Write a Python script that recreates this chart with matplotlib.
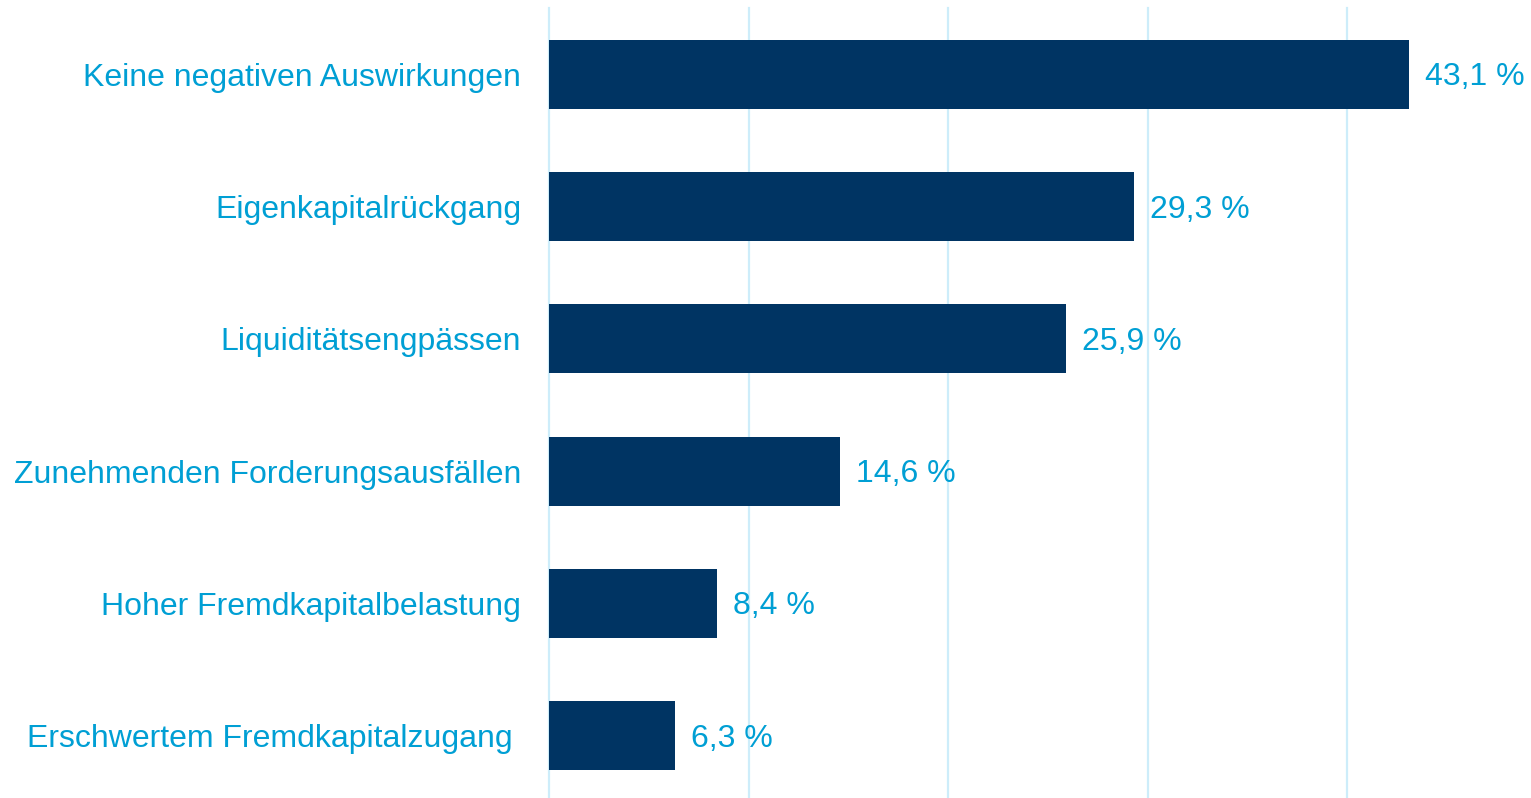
import matplotlib
matplotlib.use("Agg")
import matplotlib.pyplot as plt

categories = [
    "Keine negativen Auswirkungen",
    "Eigenkapitalrückgang",
    "Liquiditätsengpässen",
    "Zunehmenden Forderungsausfällen",
    "Hoher Fremdkapitalbelastung",
    "Erschwertem Fremdkapitalzugang ",
]
values = [43.1, 29.3, 25.9, 14.6, 8.4, 6.3]
value_labels = ["43,1 %", "29,3 %", "25,9 %", "14,6 %", "8,4 %", "6,3 %"]

W, H = 1531, 798
bar_color = "#003463"
text_color = "#009FD4"
grid_color = "#CDEDFA"

plt.rcParams["font.family"] = ["Liberation Sans", "DejaVu Sans"]

fig = plt.figure(figsize=(W / 100, H / 100), dpi=100)
ax = fig.add_axes([549 / W, -4 / H, 997.5 / W, 794 / H])

y = list(range(len(categories)))
ax.barh(y, values, height=0.52, color=bar_color, zorder=2)
for yi, v, lab in zip(y, values, value_labels):
    ax.annotate(lab, (v, yi), xytext=(16, -3), textcoords="offset pixels",
                ha="left", va="center", fontsize=23, color=text_color, zorder=3)

ax.set_xlim(0, 50)
ax.set_ylim(5.5, -0.5)
ax.set_xticks([0, 10, 20, 30, 40])
ax.xaxis.grid(True, color=grid_color, linewidth=1.6, zorder=0)
ax.set_axisbelow(True)
ax.tick_params(axis="x", length=0, labelbottom=False)
ax.tick_params(axis="y", length=0, pad=20, labelsize=23, labelcolor=text_color)
ax.set_yticks(y)
ax.set_yticklabels(categories)
for s in ax.spines.values():
    s.set_visible(False)
ax.patch.set_alpha(0)

fig.canvas.draw()
for gl in ax.get_xgridlines():
    gl.set_clip_on(False)

fig.savefig("out.png", dpi=100, facecolor="white")
